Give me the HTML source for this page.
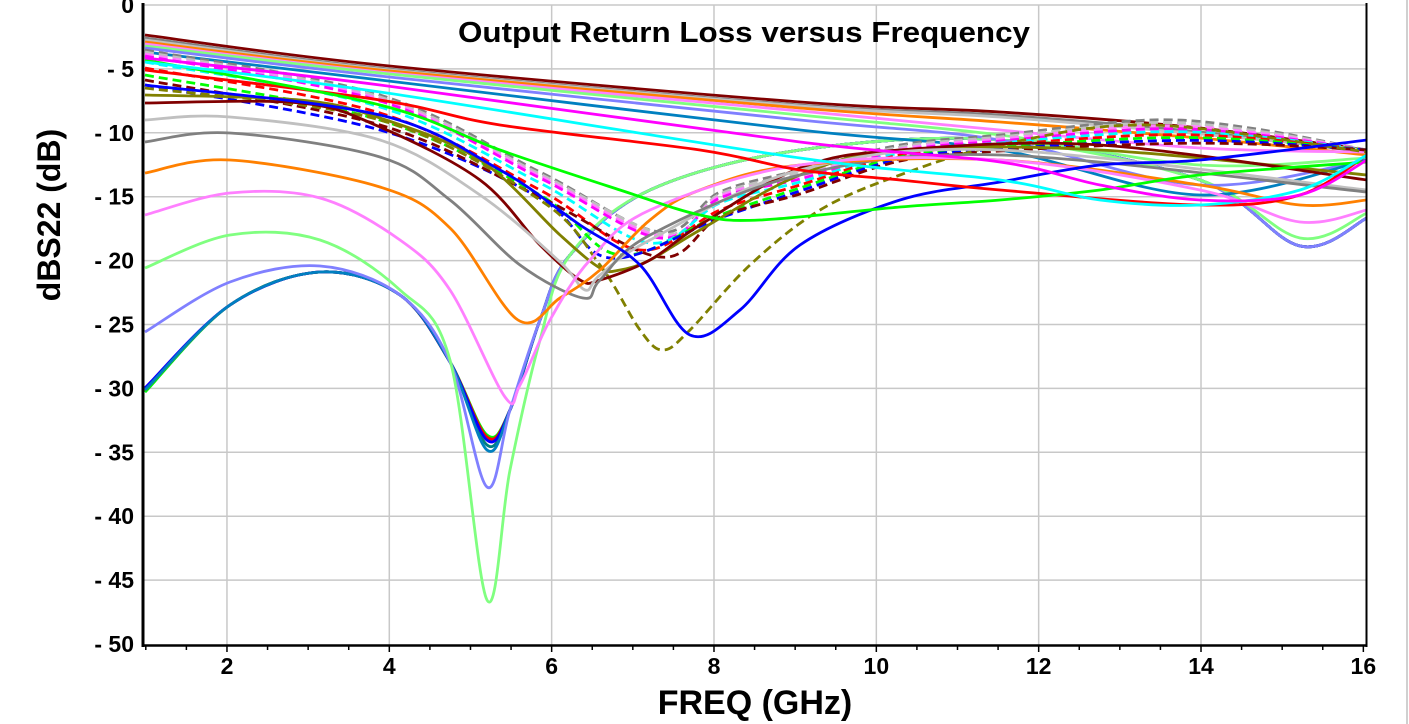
<!DOCTYPE html>
<html><head><meta charset="utf-8"><style>
body{margin:0;background:#fff;}
svg{display:block;font-family:"Liberation Sans",Arial,sans-serif;}
</style></head><body>
<svg id="s" width="1409" height="724" viewBox="0 0 1409 724" xmlns="http://www.w3.org/2000/svg">
<rect width="1409" height="724" fill="#fff"/>
<line x1="1407" y1="0" x2="1407" y2="724" stroke="#d0d0d0" stroke-width="2"/>
<g id="grid" stroke="#c8c8c8" stroke-width="1.5"></g>
<defs><clipPath id="c"><rect x="144" y="4" width="1223" height="642"/></clipPath></defs>
<g id="curves" clip-path="url(#c)" fill="none" stroke-width="2.8" stroke-linejoin="round"></g>
<g id="axes"></g>
<text x="744" y="42" font-size="29" font-weight="bold" text-anchor="middle" textLength="572" lengthAdjust="spacingAndGlyphs">Output Return Loss versus Frequency</text>
<text x="755" y="714" font-size="34" font-weight="bold" text-anchor="middle">FREQ (GHz)</text>
<text transform="translate(60,215) rotate(-90)" font-size="32" font-weight="bold" text-anchor="middle">dBS22 (dB)</text>
</svg>
<script>
(function(){
const NS="http://www.w3.org/2000/svg";
const X=f=>145.8+(f-1)*81.17, Y=d=>5+(-d)*12.78;
function el(t,a,p){const e=document.createElementNS(NS,t);for(const k in a)e.setAttribute(k,a[k]);p.appendChild(e);return e;}
const grid=document.getElementById('grid'),axes=document.getElementById('axes');
for(let f=2;f<=14;f+=2)el('line',{x1:X(f),y1:5,x2:X(f),y2:645},grid);
for(let d=-5;d>=-45;d-=5)el('line',{x1:144,y1:Y(d),x2:1367,y2:Y(d)},grid);
el('line',{x1:144,y1:5,x2:1367,y2:5},grid);
el('line',{x1:143,y1:3,x2:143,y2:647,stroke:'#000','stroke-width':3},axes);
el('line',{x1:142,y1:645.5,x2:1367,y2:645.5,stroke:'#000','stroke-width':2.5},axes);
el('line',{x1:1366.5,y1:3,x2:1366.5,y2:647,stroke:'#000','stroke-width':2},axes);
for(let f=1;f<=16.01;f+=0.5){el('line',{x1:X(f),y1:645,x2:X(f),y2:(f%2==0)?652:650,stroke:'#000','stroke-width':1.5},axes);}
for(let f=2;f<=16;f+=2){const t=el('text',{x:X(f),y:674,'font-size':23,'font-weight':'bold','text-anchor':'middle'},axes);t.textContent=f;}
for(let d=0;d>=-50;d-=5){const t=el('text',{x:134,y:Y(d)+8,'font-size':23,'font-weight':'bold','text-anchor':'end'},axes);t.textContent=d==0?'0':'- '+(-d);}
function path(p){let s='M'+p[0][0]+','+p[0][1];for(let i=0;i<p.length-1;i++){const p0=p[i-1]||p[i],p1=p[i],p2=p[i+1],p3=p[i+2]||p2;const c1=[p1[0]+(p2[0]-p0[0])/6,p1[1]+(p2[1]-p0[1])/6],c2=[p2[0]-(p3[0]-p1[0])/6,p2[1]-(p3[1]-p1[1])/6];s+=`C${c1[0]},${c1[1]} ${c2[0]},${c2[1]} ${p2[0]},${p2[1]}`;}return s;}
const C=[];
const low=[['#008080',392,445],['#00ffff',390,438],['#ff00ff',388,440],['#00ff00',392,435],['#ff0000',390,437],['#0000ff',388,440],['#0080c0',390,450],['#8080ff',332,487],['#80ff80',268,600]];
low.forEach(t=>{const m=t[0]=='#80ff80';C.push([t[0],0,[[145,t[1]],[230,m?235:(t[1]>340?305:282)],[320,m?240:(t[1]>340?272:266)],[400,m?290:295],[450,m?360:362],[487,t[2]],[510,m?470:410],[540,m?340:320],[570,255],[650,190],[800,150],[1000,140],[1200,180],[1300,m?238:246],[1367,m?213:218]]]);});
const topF=[['#800000',35,65,102,112,128,150],['#808080',38,68,105,115,132,152],['#c0c0c0',40,69,106,117,134,150],['#ff8000',42,70,108,122,138,155],['#ff80ff',44,72,111,130,148,152],['#80ff80',46,73,115,135,165,158],['#8080ff',48,76,120,140,185,160],['#0080c0',52,80,130,150,195,160]];
topF.forEach(t=>C.push([t[0],0,[[145,t[1]],[380,t[2]],[800,t[3]],[1000,t[4]],[1200,t[5]],[1367,t[6]]]]));
const dsh=[['#808080',50,660,232],['#c0c0c0',52,665,234],['#ff80ff',54,662,236],['#ff00ff',56,660,238],['#00ffff',62,650,243],['#ff0000',68,640,250],['#00ff00',75,620,255],['#0000ff',85,610,258],['#800000',80,660,257]];
dsh.forEach((t,i)=>C.push([t[0],1,[[145,t[1]],[380,t[1]+45],[540,t[3]-60],[t[2],t[3]],[720,t[3]-40],[800,170+i*3],[900,145+i*2],[1000,135+i*2],[1150,120+i*3],[1250,128+i*2],[1367,150]]]));
C.push(['#808000',1,[[145,88],[380,120],[540,200],[600,265],[640,330],[663,350],[690,330],[750,265],[820,210],[900,175],[1000,145],[1150,125],[1367,152]]]);
C.push(['#808000',0,[[145,95],[300,100],[380,118],[480,160],[560,235],[600,268],[620,270],[650,260],[700,230],[800,175],[900,150],[1100,150],[1367,175]]]);
C.push(['#800000',0,[[145,103],[300,103],[380,127],[480,180],[540,245],[580,280],[600,280],[650,260],[700,225],[800,168],[900,150],[1100,145],[1367,180]]]);
C.push(['#c0c0c0',0,[[145,120],[230,117],[380,140],[480,195],[560,262],[585,290],[600,275],[650,240],[800,170],[1000,150],[1367,190]]]);
C.push(['#808080',0,[[145,142],[230,133],[380,157],[450,200],[520,265],[583,298],[600,280],[650,235],[800,175],[1000,155],[1367,192]]]);
C.push(['#ff8000',0,[[145,173],[230,160],[380,187],[450,228],[518,320],[560,298],[600,270],[650,220],[700,190],[800,165],[1000,160],[1200,185],[1300,205],[1367,200]]]);
C.push(['#ff80ff',0,[[145,215],[230,193],[320,198],[400,240],[450,290],[505,397],[520,385],[550,320],[590,260],[650,210],[800,165],[1000,160],[1200,190],[1300,222],[1367,210]]]);
C.push(['#0000ff',0,[[145,85],[380,115],[500,170],[580,225],[640,265],[690,335],[740,310],[800,245],[900,200],[1000,182],[1100,165],[1200,160],[1367,140]]]);
C.push(['#ff0000',0,[[145,70],[380,100],[500,125],[700,150],[800,170],[900,180],[1000,190],[1200,205],[1300,195],[1367,155]]]);
C.push(['#00ff00',0,[[145,60],[380,105],[500,150],[620,190],[700,215],[760,220],[900,207],[1000,200],[1100,190],[1200,175],[1367,162]]]);
C.push(['#00ffff',0,[[145,62],[380,92],[800,158],[1000,180],[1100,200],[1200,205],[1300,190],[1367,155]]]);
C.push(['#ff00ff',0,[[145,58],[380,85],[800,142],[1000,162],[1100,185],[1200,200],[1300,195],[1367,160]]]);
const g=document.getElementById('curves');
C.forEach(c=>{const a={d:path(c[2]),stroke:c[0]};if(c[1])a['stroke-dasharray']='9,5';el('path',a,g);});
})();
</script>
</body></html>
